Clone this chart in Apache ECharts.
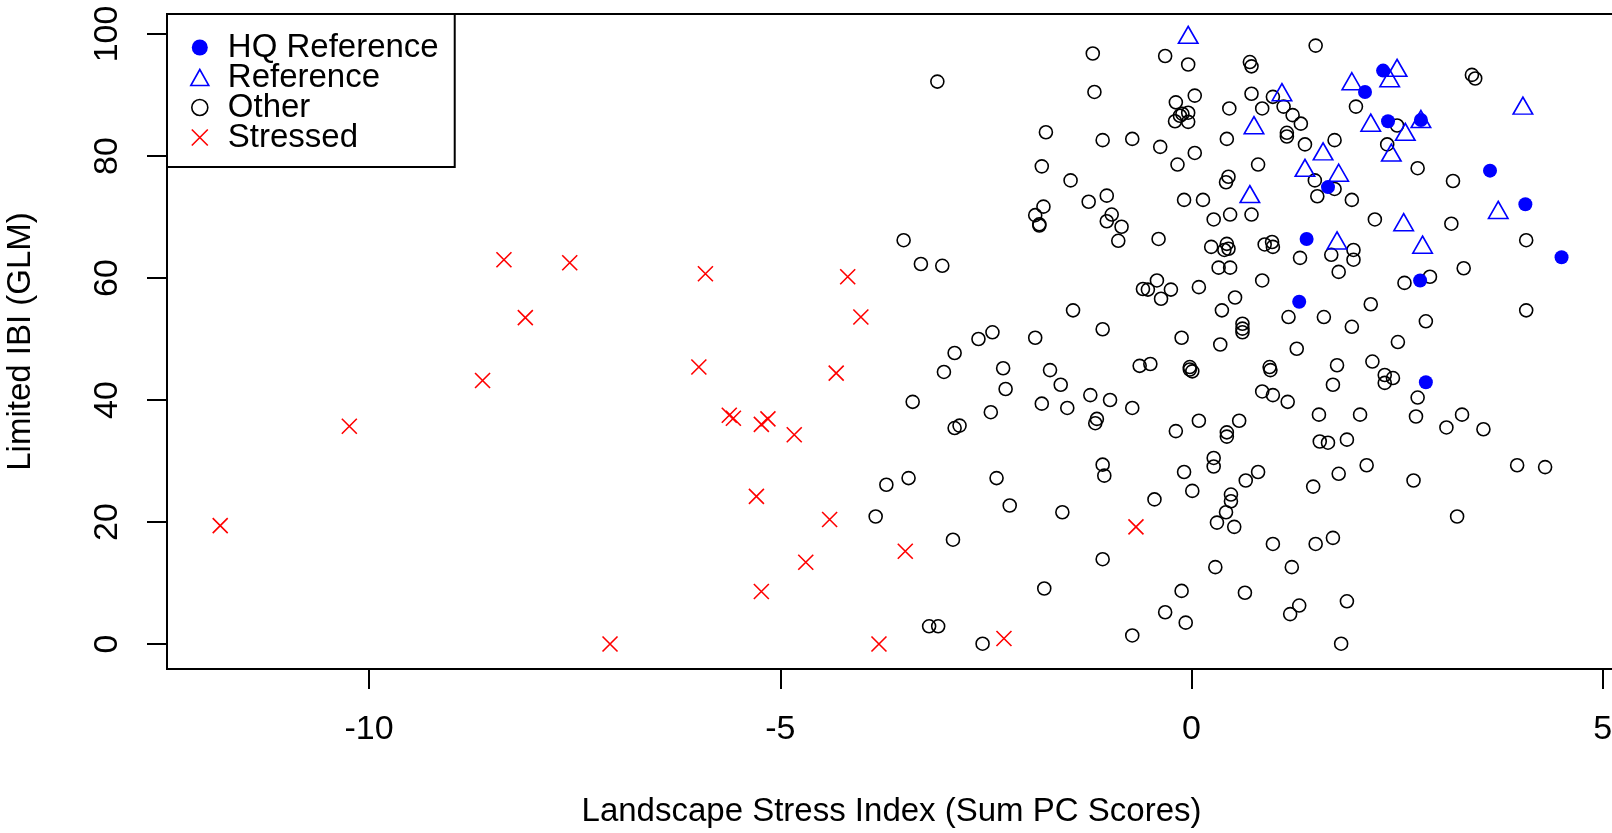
<!DOCTYPE html>
<html>
<head>
<meta charset="utf-8">
<script src="https://cdn.jsdelivr.net/npm/echarts@6/dist/echarts.min.js"></script>
<style>
  html, body { margin: 0; padding: 0; background: #fff; overflow: hidden; }
  #chart { width: 1612px; height: 833px; }
</style>
</head>
<body>
<div id="chart"></div>
<script>
// Landscape stress index vs. limited IBI, by site class

const xTicks = [-10, -5, 0, 5];
const yTicks = [0, 20, 40, 60, 80, 100];

const hqReference = [
  [1.31, 56.1], [1.40, 66.4], [1.66, 74.9], [2.11, 90.5], [2.33, 94.0], [2.39, 85.7],
  [2.79, 85.9], [2.78, 59.6], [2.85, 42.9], [3.63, 77.6], [4.06, 72.1], [4.50, 63.4]
];

const reference = [
  [-0.04, 99.4], [1.10, 90.0], [1.95, 91.8], [2.50, 94.0], [2.41, 92.3], [0.76, 84.6],
  [2.18, 85.0], [2.60, 83.5], [2.79, 85.6], [2.43, 80.1], [1.60, 80.3], [1.38, 77.6],
  [1.79, 76.8], [0.71, 73.3], [4.03, 87.8], [3.73, 70.7], [2.58, 68.7], [2.81, 65.0],
  [1.77, 65.7]
];

const other = [
  [-1.20, 96.8], [-3.09, 92.2], [-1.18, 90.5], [-1.77, 83.9], [-1.08, 82.6], [-1.82, 78.3],
  [-1.47, 76.0], [-1.25, 72.5], [-1.03, 73.5], [-1.80, 71.7], [-1.90, 70.3], [-1.85, 68.8],
  [-1.85, 68.6], [-3.50, 66.2], [-3.29, 62.3], [-3.03, 62.0], [-1.44, 54.7], [-1.08, 51.6],
  [-2.42, 51.1], [-2.59, 50.0], [-1.90, 50.2],
  [-2.88, 47.7], [-3.01, 44.6], [-2.29, 45.2], [-1.72, 44.9], [-1.59, 42.5], [-2.26, 41.8],
  [-3.39, 39.7], [-1.82, 39.4], [-1.51, 38.7], [-1.23, 40.8], [-0.99, 40.0], [-2.44, 38.0],
  [-2.88, 35.4], [-2.82, 35.8], [-1.15, 36.9], [-1.17, 36.2], [-3.44, 27.2], [-3.71, 26.1],
  [-2.37, 27.2], [-1.08, 29.4], [-1.06, 27.6], [-3.84, 20.9], [-2.21, 22.7], [-1.57, 21.6],
  [-2.90, 17.1], [-1.08, 13.9], [-1.79, 9.1], [-3.19, 2.9], [-3.08, 2.9], [-2.54, 0.05],
  [-0.12, 50.2], [0.62, 52.5], [0.62, 51.7], [0.62, 51.1], [0.35, 49.1], [1.28, 48.4],
  [1.95, 52.0], [-0.63, 45.6], [-0.50, 45.9], [-0.02, 45.4], [0.01, 44.7], [-0.02, 45.0],
  [0.95, 45.4], [0.96, 44.9], [1.77, 45.7], [1.72, 42.5], [-0.72, 38.7], [0.86, 41.4],
  [0.99, 40.8], [1.17, 39.7], [1.55, 37.6], [2.05, 37.6], [-0.19, 34.9], [0.09, 36.6],
  [0.43, 34.7], [0.43, 34.0], [0.58, 36.6], [1.56, 33.2], [1.66, 33.0], [1.89, 33.5],
  [0.27, 30.5], [0.27, 29.1], [-0.09, 28.2], [0.81, 28.2], [0.66, 26.8], [1.79, 27.9],
  [1.48, 25.8], [0.01, 25.1], [-0.45, 23.7], [0.48, 24.5], [0.48, 23.4], [0.42, 21.6],
  [0.31, 19.9], [0.52, 19.2], [0.99, 16.4], [1.51, 16.4], [1.72, 17.4], [0.29, 12.6],
  [1.22, 12.6], [-0.12, 8.7], [0.65, 8.4], [1.89, 7.0], [-0.32, 5.2], [-0.07, 3.5],
  [1.20, 4.9], [1.31, 6.3], [-0.72, 1.4], [1.82, 0.05],
  [-0.32, 96.4], [-0.04, 95.0], [1.51, 98.1], [0.71, 95.4], [0.73, 94.7], [0.04, 89.9],
  [-0.19, 88.8], [0.46, 87.8], [0.73, 90.2], [0.86, 87.8], [0.99, 89.7], [-0.11, 86.9],
  [-0.04, 87.1], [-0.20, 85.7], [-0.04, 85.6], [-0.14, 86.6], [1.12, 88.1], [1.23, 86.7],
  [1.33, 85.3], [1.16, 83.8], [1.16, 83.2], [-0.72, 82.8], [-0.38, 81.5], [0.43, 82.8],
  [0.04, 80.5], [-0.17, 78.6], [1.38, 81.9], [1.74, 82.6], [0.81, 78.6], [0.45, 76.6],
  [0.42, 75.7], [1.50, 76.0], [1.74, 74.6], [1.53, 73.4], [1.95, 72.8], [-0.09, 72.8],
  [0.14, 72.8], [-0.97, 70.4], [-1.03, 69.3], [-0.85, 68.4], [-0.89, 66.1], [-0.40, 66.4],
  [0.27, 69.6], [0.47, 70.4], [0.73, 70.4], [0.24, 65.1], [0.43, 65.6], [0.45, 64.8],
  [0.40, 64.6], [0.89, 65.5], [0.98, 65.9], [0.99, 65.1], [1.32, 63.3], [1.70, 63.8],
  [1.79, 61.0], [1.97, 64.6], [1.97, 63.0], [0.33, 61.7], [0.47, 61.7], [0.86, 59.6],
  [-0.53, 58.1], [-0.42, 59.6], [-0.25, 58.1], [-0.37, 56.6], [-0.59, 58.2], [0.09, 58.5],
  [0.53, 56.8], [0.37, 54.7], [1.18, 53.6], [1.61, 53.6],
  [3.41, 93.3], [3.45, 92.7], [2.00, 88.1], [2.50, 85.0], [2.38, 81.9], [2.75, 78.0],
  [3.18, 75.9], [2.23, 69.6], [3.16, 68.9], [4.07, 66.2], [3.31, 61.6], [2.59, 59.2],
  [2.90, 60.2], [2.18, 55.7], [2.85, 52.9], [4.07, 54.7],
  [2.51, 49.5], [2.20, 46.3], [2.35, 44.1], [2.45, 43.6], [2.35, 42.8], [2.75, 40.4],
  [2.73, 37.3], [3.10, 35.5], [3.29, 37.6], [3.55, 35.2], [2.13, 29.3], [2.70, 26.8],
  [3.96, 29.3], [4.30, 29.0], [3.23, 20.9]
];

const stressed = [
  [-11.81, 19.4], [-10.24, 35.7], [-8.62, 43.2], [-8.36, 63.0], [-8.10, 53.5], [-7.56, 62.5],
  [-7.07, 0.0], [-5.99, 45.4], [-5.91, 60.7], [-5.62, 37.5], [-5.57, 37.0], [-5.23, 36.0],
  [-5.15, 36.9], [-5.29, 24.2], [-5.23, 8.6], [-4.83, 34.3], [-4.69, 13.4], [-4.40, 20.4],
  [-4.32, 44.4], [-4.18, 60.2], [-4.02, 53.6], [-3.48, 15.2], [-3.80, 0.0], [-2.28, 0.9],
  [-0.675, 19.2]
];

const FONT = '"Liberation Sans", Arial, Helvetica, sans-serif';
const BLUE = '#0000FF';
const RED = '#FF0000';
const BLACK = '#000000';
const CROSS = 'path://M0,0L10,10M10,0L0,10';

const chart = echarts.init(document.getElementById('chart'), null, { renderer: 'canvas' });

chart.setOption({
  animation: false,
  backgroundColor: '#ffffff',
  textStyle: { fontFamily: FONT, color: BLACK },
  // plot frame runs past the right edge of the canvas
  grid: {
    left: 167, top: 14, width: 1449, bottom: 164,
    outerBoundsMode: 'none',
    containLabel: false,
    show: true, borderColor: BLACK, borderWidth: 2, backgroundColor: 'transparent'
  },
  legend: {
    orient: 'vertical',
    left: 167, top: 14,
    itemGap: -3,
    itemWidth: 18, itemHeight: 16,
    padding: [17, 16, 13, 23],
    backgroundColor: '#ffffff',
    borderColor: BLACK, borderWidth: 2, borderRadius: 0,
    selectedMode: false,
    textStyle: { fontFamily: FONT, fontSize: 33, color: BLACK, padding: [0, 0, 0, 14] },
    data: [
      { name: 'HQ Reference', icon: 'circle', itemStyle: { color: BLUE, borderWidth: 0, opacity: 1 } },
      { name: 'Reference', icon: 'triangle', itemStyle: { color: 'transparent', borderColor: BLUE, borderWidth: 1.6, opacity: 1 } },
      { name: 'Other', icon: 'circle', itemStyle: { color: 'transparent', borderColor: BLACK, borderWidth: 1.6, opacity: 1 } },
      { name: 'Stressed', icon: CROSS, itemStyle: { color: 'transparent', borderColor: RED, borderWidth: 1.6, opacity: 1 } }
    ]
  },
  xAxis: {
    type: 'value',
    min: -12.457, max: 5.162,
    axisLine: { show: false, onZero: false },
    splitLine: { show: false },
    axisTick: { show: true, length: 20, lineStyle: { color: BLACK, width: 2 }, customValues: xTicks },
    axisLabel: { customValues: xTicks, fontFamily: FONT, fontSize: 34, color: BLACK, margin: 44 },
    name: 'Landscape Stress Index (Sum PC Scores)',
    nameLocation: 'middle',
    nameGap: 126,
    nameTextStyle: { fontFamily: FONT, fontSize: 33, color: BLACK }
  },
  yAxis: {
    type: 'value',
    min: -4.10, max: 103.28,
    axisLine: { show: false, onZero: false },
    splitLine: { show: false },
    axisTick: { show: true, length: 20, lineStyle: { color: BLACK, width: 2 }, customValues: yTicks },
    axisLabel: { customValues: yTicks, rotate: 90, fontFamily: FONT, fontSize: 34, color: BLACK, margin: 42 },
    name: 'Limited IBI (GLM)',
    nameLocation: 'middle',
    nameRotate: 90,
    nameGap: 130,
    nameTextStyle: { fontFamily: FONT, fontSize: 33, color: BLACK }
  },
  series: [
    {
      name: 'Other', type: 'scatter', data: other, silent: true,
      symbol: 'circle', symbolSize: 13,
      itemStyle: { color: 'transparent', borderColor: BLACK, borderWidth: 1.6, opacity: 1 }
    },
    {
      name: 'Stressed', type: 'scatter', data: stressed, silent: true,
      symbol: CROSS, symbolSize: 15,
      itemStyle: { color: 'transparent', borderColor: RED, borderWidth: 1.6, opacity: 1 }
    },
    {
      name: 'Reference', type: 'scatter', data: reference, silent: true,
      symbol: 'triangle', symbolSize: [19.5, 17], symbolOffset: [0, -2.8],
      itemStyle: { color: 'transparent', borderColor: BLUE, borderWidth: 1.6, opacity: 1 }
    },
    {
      name: 'HQ Reference', type: 'scatter', data: hqReference, silent: true,
      symbol: 'circle', symbolSize: 14,
      itemStyle: { color: BLUE, borderWidth: 0, opacity: 1 }
    }
  ]
});
</script>
</body>
</html>
